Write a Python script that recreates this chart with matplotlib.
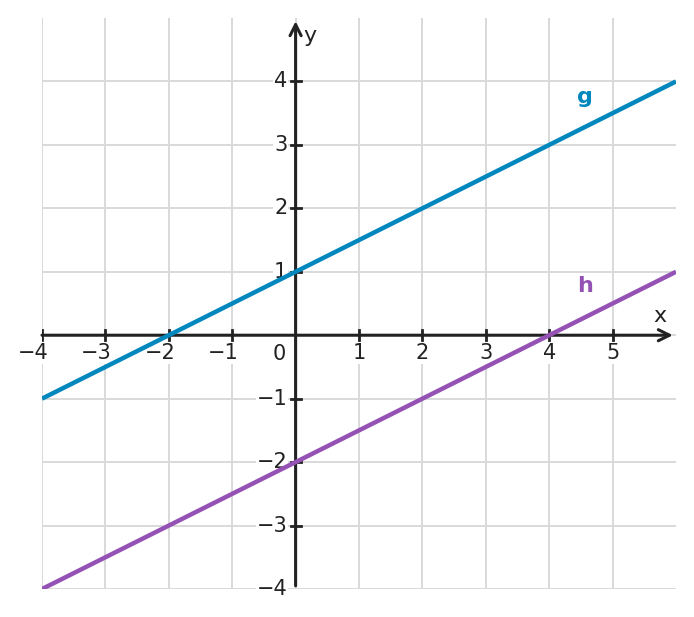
import matplotlib
matplotlib.use("Agg")
import matplotlib.pyplot as plt
import numpy as np

x_range = [-4, 6]
y_range = [-4, 5]
x_ticks = [-4, -3, -2, -1, 1, 2, 3, 4, 5]
y_ticks = [-4, -3, -2, -1, 1, 2, 3, 4]
g_slope, g_intercept = 0.5, 1
h_slope, h_intercept = 0.5, -2
g_color = "#0087bd"
h_color = "#9452b5"

fig = plt.figure(figsize=(6.94, 6.17), dpi=100)
ax = fig.add_axes([42/694, 1-589/617, (676-42)/694, (589-18)/617])
ax.set_xlim(*x_range)
ax.set_ylim(*y_range)
ax.axis("off")

grid_c = "#d9d9d9"
for gx in range(-4, 6):
    ax.plot([gx, gx], [-4, 5], color=grid_c, lw=1.4, zorder=1)
for gy in range(-4, 5):
    ax.plot([-4, 6], [gy, gy], color=grid_c, lw=1.4, zorder=1)

axc = "#222222"
ax.annotate("", xy=(5.95, 0), xytext=(-4, 0),
            arrowprops=dict(arrowstyle="->,head_length=0.8,head_width=0.4", color=axc, lw=2.2,
                            shrinkA=0, shrinkB=0), zorder=3)
ax.annotate("", xy=(0, 4.95), xytext=(0, -3.95),
            arrowprops=dict(arrowstyle="->,head_length=0.8,head_width=0.4", color=axc, lw=2.2,
                            shrinkA=0, shrinkB=0), zorder=3)

box = dict(boxstyle="square,pad=0.05", fc="white", ec="none")
for t in x_ticks:
    ax.plot([t, t], [-0.08, 0.08], color=axc, lw=2, zorder=3)
    if t < 0:
        ax.text(t - 0.14, -0.28, "\u2212%d" % -t, ha="center", va="center",
                fontsize=15, color=axc, zorder=2, bbox=box)
    else:
        ax.text(t, -0.28, "%d" % t, ha="center", va="center",
                fontsize=15, color=axc, zorder=2, bbox=box)
for t in y_ticks:
    if t != -4:
        ax.plot([-0.08, 0.08], [t, t], color=axc, lw=2, zorder=3)
    ax.text(-0.13, t, "\u2212%d" % -t if t < 0 else "%d" % t, ha="right", va="center",
            fontsize=15, color=axc, zorder=2, bbox=box)
ax.text(-0.25, -0.29, "0", ha="center", va="center", fontsize=15, color=axc, zorder=2, bbox=box)
ax.text(5.75, 0.3, "x", ha="center", va="center", fontsize=16, color=axc, zorder=4)
ax.text(0.22, 4.72, "y", ha="center", va="center", fontsize=16, color=axc, zorder=4)

xs = np.array(x_range, dtype=float)
ax.plot(xs, g_slope*xs + g_intercept, color=g_color, lw=3.2, zorder=5, solid_capstyle="butt")
ax.plot(xs, h_slope*xs + h_intercept, color=h_color, lw=3.2, zorder=5, solid_capstyle="butt")
ax.text(4.57, 3.75, "g", color=g_color, fontsize=16, fontweight="bold", ha="center", va="center")
ax.text(4.57, 0.77, "h", color=h_color, fontsize=16, fontweight="bold", ha="center", va="center")

fig.savefig("out.png", dpi=100, facecolor="white")
